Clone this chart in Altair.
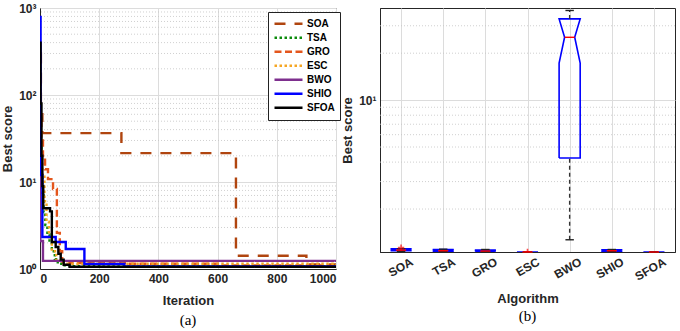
import altair as alt
import pandas as pd

# ---------------- data ----------------
ALGS = ["SOA", "TSA", "GRO", "ESC", "BWO", "SHIO", "SFOA"]
COLORS = ["#B0450F", "#0B8A0B", "#E4561C", "#F5A623", "#7E2F8E", "#0000FF", "#000000"]
DASHES = [[11, 9], [2.5, 2.5], [7, 3.5], [2.5, 2.5], [1, 0], [1, 0], [1, 0]]

# convergence curves (iteration, best score)
SOA_IT = [0, 3, 8, 275, 662, 900, 1000]
SOA_V = [300, 60, 36.5, 21.5, 1.42, 1.13, 1.13]
TSA_IT = [0, 1, 3, 5, 8, 12, 18, 25, 32, 40, 50, 60, 75, 100, 200, 1000]
TSA_V = [200, 60, 25, 12, 7, 4.5, 3.2, 2.5, 2.0, 1.6, 1.3, 1.15, 1.1, 1.08, 1.07, 1.07]
GRO_IT = [0, 2, 5, 10, 17, 27, 44, 57, 67, 75, 100, 300, 600, 1000]
GRO_V = [150, 60, 30, 18, 14, 10.8, 8.3, 2.6, 1.6, 1.22, 1.17, 1.15, 1.1, 1.08]
ESC_IT = [0, 2, 4, 8, 15, 22, 30, 40, 55, 80, 1000]
ESC_V = [100, 35, 20, 12, 6, 3.5, 2.2, 1.6, 1.25, 1.15, 1.12]
BWO_IT = [0, 1, 10, 1000]
BWO_V = [80, 2.1, 1.24, 1.24]
SHIO_IT = [0, 2, 8, 53, 87, 150, 285, 1000]
SHIO_V = [790, 12, 2.33, 2.04, 1.70, 1.14, 1.07, 1.07]
SFOA_IT = [0, 2, 5, 8, 11, 34, 40, 53, 62, 70, 80, 100, 1000]
SFOA_V = [400, 80, 20, 9, 5.0, 4.6, 2.04, 1.79, 1.5, 1.28, 1.12, 1.06, 1.05]

CURVES = [(SOA_IT, SOA_V), (TSA_IT, TSA_V), (GRO_IT, GRO_V), (ESC_IT, ESC_V),
          (BWO_IT, BWO_V), (SHIO_IT, SHIO_V), (SFOA_IT, SFOA_V)]

X_TICKS = [0, 200, 400, 600, 800, 1000]
Y_TICKS_A = [1, 10, 100, 1000]
Y_LABELS_A = ["10⁰", "10¹", "10²", "10³"]
MINOR_A = [m * d for d in [1, 10, 100] for m in range(2, 10)]

# box plot statistics per algorithm
Q1 = [1.08, 1.07, 1.068, 1.06, 4.25, 1.068, 1.06]
MED = [1.09, 1.08, 1.075, 1.06, 25.3, 1.08, 1.06]
Q3 = [1.11, 1.10, 1.09, 1.06, 33.2, 1.095, 1.06]
W_LO = [1.07, 1.065, 1.065, 1.06, 1.27, 1.065, 1.06]
W_HI = [1.11, 1.105, 1.10, 1.06, 37.6, 1.10, 1.06]
NOTCH_LO = [1.08, 1.07, 1.068, 1.06, 17.3, 1.068, 1.06]
NOTCH_HI = [1.11, 1.10, 1.09, 1.06, 33.2, 1.095, 1.06]
OUT_ALG = [1, 4]
OUT_V = [1.13, 1.062]
MINOR_B = [2, 3, 4, 5, 6, 7, 8, 9, 20, 30]

# ---------------- tables ----------------
rows = []
for a, (its, vs) in zip(ALGS, CURVES):
    for i, v in zip(its, vs):
        rows.append({"alg": a, "iter": i, "val": v})
conv = pd.DataFrame(rows)

W, WN, WC = 0.25, 0.12, 0.1
poly = []
for k, a in enumerate(ALGS):
    x = k + 1
    pts = [(x - W, Q1[k]), (x - W, NOTCH_LO[k]), (x - WN, MED[k]), (x - W, NOTCH_HI[k]),
           (x - W, Q3[k]), (x + W, Q3[k]), (x + W, NOTCH_HI[k]), (x + WN, MED[k]),
           (x + W, NOTCH_LO[k]), (x + W, Q1[k]), (x - W, Q1[k])]
    for j, (px, py) in enumerate(pts):
        poly.append({"alg": a, "k": j, "px": px, "py": py})
poly = pd.DataFrame(poly)

stats = pd.DataFrame({"alg": ALGS, "x": list(range(1, 8)), "q1": Q1, "med": MED, "q3": Q3,
                      "wlo": W_LO, "whi": W_HI})
stats["xl"] = stats["x"] - WN
stats["xr"] = stats["x"] + WN
stats["cl"] = stats["x"] - WC
stats["cr"] = stats["x"] + WC
outl = pd.DataFrame({"x": OUT_ALG, "v": OUT_V})

FONT = "Liberation Sans"
GRID = "#dcdcdc"

# ---------------- panel (a) ----------------
ysc_a = alt.Scale(type="log", domain=[1, 1000], nice=False)
xsc_a = alt.Scale(domain=[0, 1000], nice=False)
lab_a = "[" + ",".join("'%s'" % s for s in Y_LABELS_A) + "][round(log(datum.value)/LN10)]"
yax_a = alt.Axis(values=Y_TICKS_A, grid=True, labelExpr=lab_a, minExtent=24, maxExtent=24)
xax_a = alt.Axis(values=X_TICKS, grid=True, format="d")

minor_a = alt.Chart(pd.DataFrame({"v": MINOR_A})).mark_rule(
    color="#c4c4c4", strokeDash=[1, 2], strokeWidth=0.8
).encode(y=alt.Y("v:Q", scale=ysc_a, axis=yax_a, title="Best score"))

leg = alt.Legend(title=None, orient="none", legendX=228, legendY=4, symbolType="stroke",
                 symbolSize=784, symbolStrokeWidth=2.5, rowPadding=0, clipHeight=13.5,
                 labelFont=FONT, labelFontWeight="bold", labelFontSize=10, labelColor="#000",
                 strokeColor="#222", fillColor="white", padding=5, labelOffset=3)

lines = alt.Chart(conv).mark_line(interpolate="step-after", strokeWidth=2.4, clip=True).encode(
    x=alt.X("iter:Q", scale=xsc_a, title="Iteration", axis=xax_a),
    y=alt.Y("val:Q", scale=ysc_a, title="Best score", axis=yax_a),
    color=alt.Color("alg:N", scale=alt.Scale(domain=ALGS, range=COLORS), legend=leg),
    strokeDash=alt.StrokeDash("alg:N", scale=alt.Scale(domain=ALGS, range=DASHES), legend=leg),
)

left = alt.layer(minor_a, lines).properties(
    width=296, height=261,
    title=alt.TitleParams("(a)", orient="bottom", font="Liberation Serif", fontSize=15,
                          fontWeight="normal", color="#000", offset=6),
)

# ---------------- panel (b) ----------------
ysc_b = alt.Scale(type="log", domain=[1.06, 39], nice=False)
xsc_b = alt.Scale(domain=[0.5, 7.5], nice=False)
lab_b = "[" + ",".join("'%s'" % s for s in ALGS) + "][round(datum.value)-1]"
yax_b = alt.Axis(values=[10], grid=True, labelExpr="'10¹'", minExtent=24, maxExtent=24)
xax_b = alt.Axis(values=list(range(1, 8)), grid=True, labelExpr=lab_b,
                 labelAngle=-30, labelAlign="right", labelBaseline="top",
                 labelOffset=8, labelPadding=4)

minor_b = alt.Chart(pd.DataFrame({"v": MINOR_B})).mark_rule(
    color="#c4c4c4", strokeDash=[1, 2], strokeWidth=0.8
).encode(y=alt.Y("v:Q", scale=ysc_b, axis=yax_b, title="Best score"))

boxes = alt.Chart(poly).mark_line(color="#0000FF", strokeWidth=1.6, clip=True).encode(
    x=alt.X("px:Q", scale=xsc_b, title="Algorithm", axis=xax_b),
    y=alt.Y("py:Q", scale=ysc_b, title="Best score", axis=yax_b),
    detail="alg:N",
    order="k:Q",
)

whisk_hi = alt.Chart(stats).mark_rule(color="#333", strokeDash=[4, 3], strokeWidth=1.4).encode(
    x=alt.X("x:Q", scale=xsc_b), y=alt.Y("q3:Q", scale=ysc_b), y2="whi:Q")
whisk_lo = alt.Chart(stats).mark_rule(color="#333", strokeDash=[4, 3], strokeWidth=1.4).encode(
    x=alt.X("x:Q", scale=xsc_b), y=alt.Y("wlo:Q", scale=ysc_b), y2="q1:Q")
cap_hi = alt.Chart(stats).mark_rule(color="#222", strokeWidth=1.4).encode(
    x=alt.X("cl:Q", scale=xsc_b), x2="cr:Q", y=alt.Y("whi:Q", scale=ysc_b))
cap_lo = alt.Chart(stats).mark_rule(color="#222", strokeWidth=1.4).encode(
    x=alt.X("cl:Q", scale=xsc_b), x2="cr:Q", y=alt.Y("wlo:Q", scale=ysc_b))
medians = alt.Chart(stats).mark_rule(color="#FF0000", strokeWidth=1.4).encode(
    x=alt.X("xl:Q", scale=xsc_b), x2="xr:Q", y=alt.Y("med:Q", scale=ysc_b))
outs = alt.Chart(outl).mark_point(shape="M-1,0L1,0M0,-1L0,1", color="#FF0000", size=40,
                                  strokeWidth=1.6, clip=True).encode(
    x=alt.X("x:Q", scale=xsc_b), y=alt.Y("v:Q", scale=ysc_b))

right = alt.layer(minor_b, boxes, whisk_hi, whisk_lo, cap_hi, cap_lo, medians, outs).properties(
    width=295, height=244,
    title=alt.TitleParams("(b)", orient="bottom", font="Liberation Serif", fontSize=15,
                          fontWeight="normal", color="#000", offset=4),
)

chart = alt.hconcat(left, right, spacing=44, bounds="flush").properties(
    padding={"left": 0, "top": 1, "right": 0, "bottom": 0}
).configure_view(stroke="#262626", strokeWidth=1).configure_axis(
    labelFont=FONT, labelFontWeight="bold", labelFontSize=12, labelColor="#262626",
    titleFont=FONT, titleFontWeight="bold", titleFontSize=13, titleColor="#262626",
    domainColor="#262626", ticks=False, gridColor=GRID, gridWidth=1, titlePadding=2,
    labelPadding=4,
).configure_axisX(titlePadding=10)

chart.save("out.html", embed_options={"renderer": "svg", "actions": False})
